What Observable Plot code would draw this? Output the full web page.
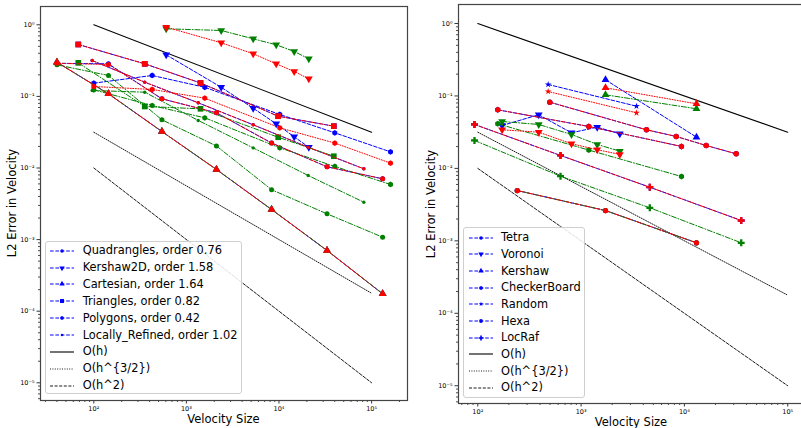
<!DOCTYPE html>
<html><head><meta charset="utf-8">
<script src="https://cdn.jsdelivr.net/npm/d3@7"></script>
<script src="https://cdn.jsdelivr.net/npm/@observablehq/plot@0.6"></script>
<style>
body{margin:0;background:#fff;font-family:"DejaVu Sans",sans-serif;}
#wrap{position:relative;width:801px;height:428px;overflow:hidden;background:#fff;}
.panel{position:absolute;top:0;}
.lab{position:absolute;font-size:11.5px;color:#000;white-space:nowrap;line-height:14px;}
.legend{position:absolute;background:rgba(255,255,255,0.85);border:1px solid #cfcfcf;border-radius:3px;box-sizing:border-box;}
.legend span{position:absolute;font-size:11.4px;line-height:14px;white-space:nowrap;color:#000;}
.legend svg{position:absolute;overflow:visible;}
</style></head><body><div id="wrap"></div>
<script>
// ---------- tick labels ----------
const xTicks = [1e2, 1e3, 1e4, 1e5];
const xTickLabels = ["10²", "10³", "10⁴", "10⁵"];
const yTicks = [1e-5, 1e-4, 1e-3, 1e-2, 1e-1, 1];
const yTickLabels = ["10⁻⁵", "10⁻⁴", "10⁻³", "10⁻²", "10⁻¹", "10⁰"];

// ---------- reference slopes ----------
const refSize = [100, 100000];
const refOh = [1, 0.0316];
const refOh32 = [0.0316, 0.000178];
const refOh2 = [0.01, 0.00001];

// ---------- left panel (2D meshes) ----------
const quadSize = [40, 144, 544, 2112, 8320, 33024, 131584];
const quadBlue = [0.29, 0.285, 0.0925, 0.059, 0.0223, 0.0104, 0.00706];
const quadRed = [0.29, 0.279, 0.0925, 0.059, 0.0223, 0.0104, 0.00706];
const quadGreen = [0.276, 0.196, 0.0471, 0.0203, 0.00497, 0.00229, 0.00108];

const kers2dSize = [605, 2376, 5265, 9330, 14590, 20990];
const kers2dBlue = [0.381, 0.134, 0.0684, 0.0414, 0.0273, 0.0195];
const kers2dRed = [0.926, 0.561, 0.394, 0.285, 0.223, 0.176];
const kers2dGreen = [0.879, 0.833, 0.637, 0.526, 0.424, 0.335];

const cartSize = [40, 144, 544, 2112, 8320, 33024, 131584];
const cartBlue = [0.3, 0.1087, 0.0323, 0.00953, 0.00263, 0.000705, 0.000175];
const cartRed = [0.3, 0.1087, 0.0323, 0.00953, 0.00263, 0.000705, 0.000175];
const cartGreen = [0.3, 0.1087, 0.0323, 0.00953, 0.00263, 0.000705, 0.000175];

const triSize = [68, 355, 1420, 9800, 39080];
const triBlue = [0.531, 0.285, 0.154, 0.0529, 0.0384];
const triRed = [0.531, 0.285, 0.154, 0.0529, 0.0384];
const triGreen = [0.294, 0.0723, 0.0671, 0.0269, 0.0146];

const polySize = [100, 427, 1580, 10200, 40060, 160000];
const polyBlue = [0.153, 0.196, 0.134, 0.0559, 0.031, 0.0168];
const polyRed = [0.1375, 0.125, 0.0944, 0.0364, 0.0223, 0.0117];
const polyGreen = [0.1236, 0.0746, 0.0502, 0.0191, 0.0105, 0.00589];

const locSize = [96, 355, 1342, 5265, 20660, 82380];
const locBlue = [0.317, 0.158, 0.0814, 0.0401, 0.0195, 0.00975];
const locRed = [0.317, 0.158, 0.0814, 0.0401, 0.0195, 0.00975];
const locGreen = [0.121, 0.1145, 0.0461, 0.0191, 0.00785, 0.00333];

// ---------- right panel (3D meshes) ----------
const tetraSize = [241, 1723, 13090];
const tetraBlue = [0.00495, 0.00262, 0.00094];
const tetraRed = [0.00495, 0.00262, 0.00094];
const tetraGreen = [0.00495, 0.00262, 0.00094];

const voroSize = [172, 389, 807, 1432, 2370];
const voroBlue = [0.0391, 0.055, 0.031, 0.0371, 0.03];
const voroRed = [0.0341, 0.0316, 0.0219, 0.0181, 0.0156];
const voroGreen = [0.0444, 0.0404, 0.0294, 0.0214, 0.0173];

const kersSize = [1723, 13090];
const kersBlue = [0.167, 0.027];
const kersRed = [0.1296, 0.0779];
const kersGreen = [0.1037, 0.0665];

const checkSize = [156, 1187, 9370];
const checkBlue = [0.0644, 0.0379, 0.0201];
const checkRed = [0.0644, 0.0379, 0.0201];
const checkGreen = [0.0413, 0.0179, 0.00773];

const randSize = [480, 3437];
const randBlue = [0.144, 0.0722];
const randRed = [0.1151, 0.0585];

const hexaSize = [498, 4297, 8330, 16260, 31720];
const hexaBlue = [0.082, 0.0341, 0.0276, 0.0207, 0.0159];
const hexaRed = [0.082, 0.0341, 0.0276, 0.0207, 0.0159];

const locRafSize = [92.9, 632, 4624, 35480];
const locRafBlue = [0.0404, 0.0151, 0.0055, 0.00191];
const locRafRed = [0.0404, 0.0151, 0.0055, 0.00191];
const locRafGreen = [0.0243, 0.0078, 0.00286, 0.00094];

// ---------- symbols & styles ----------
const triangleDown = {draw(ctx, size) {
  const y = Math.sqrt(size / (Math.sqrt(3) * 3)), s3 = Math.sqrt(3);
  ctx.moveTo(0, 2 * y); ctx.lineTo(-s3 * y, -y); ctx.lineTo(s3 * y, -y); ctx.closePath();
}};
const hexagonSym = {draw(ctx, size) {
  const r = Math.sqrt(size / (3 * Math.sqrt(3) / 2));
  for (let k = 0; k < 6; k++) {
    const a = Math.PI / 2 + k * Math.PI / 3;
    const px = r * Math.cos(a), py = r * Math.sin(a);
    if (k === 0) ctx.moveTo(px, py); else ctx.lineTo(px, py);
  }
  ctx.closePath();
}};
const SYM = {circle: d3.symbolCircle, triangle: d3.symbolTriangle, triDown: triangleDown,
  square: d3.symbolSquare, hexagon: hexagonSym, star: d3.symbolStar, cross: d3.symbolCross};

const COLORS = {
  blue: {stroke: "#0000ff", dash: "3.6,1.8"},
  green: {stroke: "#008000", dash: "5,1.8,1,1.8"},
  red: {stroke: "#ff0000", dash: "1,1.6"}
};

const leftSeries = [
  {label: "Quadrangles, order 0.76", sym: "circle", r: 2.5, x: quadSize, blue: quadBlue, red: quadRed, green: quadGreen},
  {label: "Kershaw2D, order 1.58", sym: "triDown", r: 2.9, x: kers2dSize, blue: kers2dBlue, red: kers2dRed, green: kers2dGreen},
  {label: "Cartesian, order 1.64", sym: "triangle", r: 2.9, x: cartSize, blue: cartBlue, red: cartRed, green: cartGreen},
  {label: "Triangles, order 0.82", sym: "square", r: 3.2, x: triSize, blue: triBlue, red: triRed, green: triGreen},
  {label: "Polygons, order 0.42", sym: "hexagon", r: 2.6, x: polySize, blue: polyBlue, red: polyRed, green: polyGreen},
  {label: "Locally_Refined, order 1.02", sym: "circle", r: 1.7, x: locSize, blue: locBlue, red: locRed, green: locGreen}
];
const rightSeries = [
  {label: "Tetra", sym: "circle", r: 2.6, x: tetraSize, blue: tetraBlue, red: tetraRed, green: tetraGreen},
  {label: "Voronoi", sym: "triDown", r: 2.9, x: voroSize, blue: voroBlue, red: voroRed, green: voroGreen},
  {label: "Kershaw", sym: "triangle", r: 2.9, x: kersSize, blue: kersBlue, red: kersRed, green: kersGreen},
  {label: "CheckerBoard", sym: "hexagon", r: 2.7, x: checkSize, blue: checkBlue, red: checkRed, green: checkGreen},
  {label: "Random", sym: "star", r: 2.1, x: randSize, blue: randBlue, red: randRed},
  {label: "Hexa", sym: "circle", r: 2.7, x: hexaSize, blue: hexaBlue, red: hexaRed},
  {label: "LocRaf", sym: "cross", r: 2.9, x: locRafSize, blue: locRafBlue, red: locRafRed, green: locRafGreen}
];
const refLines = [
  {label: "O(h)", y: refOh, dash: null, width: 1.1},
  {label: "O(h^{3/2})", y: refOh32, dash: "1,1.4", width: 0.9},
  {label: "O(h^2)", y: refOh2, dash: "3,1.6", width: 0.9}
];

function minorTicks(lo, hi) {
  const out = [];
  for (let e = -7; e <= 6; e++) for (let k = 2; k <= 9; k++) {
    const v = k * Math.pow(10, e);
    if (v > lo && v < hi) out.push(v);
  }
  return out;
}

function rows(xs, ys) { return xs.map((x, i) => ({x, y: ys[i]})); }

function drawPanel(cfg) {
  const marks = [];
  marks.push(Plot.axisX(minorTicks(cfg.xDomain[0], cfg.xDomain[1]), {anchor: "bottom", tickSize: 2, tickFormat: () => "", label: null, strokeWidth: 0.7}));
  marks.push(Plot.axisY(minorTicks(cfg.yDomain[0], cfg.yDomain[1]), {anchor: "left", tickSize: 2, tickFormat: () => "", label: null, strokeWidth: 0.7}));
  marks.push(Plot.axisX(xTicks, {anchor: "bottom", tickSize: 3.5, tickPadding: 2.5, fontSize: 6.5,
    tickFormat: d => xTickLabels[xTicks.indexOf(d)], label: null, strokeWidth: 0.8}));
  marks.push(Plot.axisY(yTicks, {anchor: "left", tickSize: 3.5, tickPadding: 2.5, fontSize: 6.5,
    tickFormat: d => yTickLabels[yTicks.indexOf(d)], label: null, strokeWidth: 0.8}));
  for (const r of refLines) {
    marks.push(Plot.line(rows(refSize, r.y), {x: "x", y: "y", stroke: "#000", strokeWidth: r.width, strokeDasharray: r.dash || undefined}));
  }
  for (const c of ["blue", "green", "red"]) {
    for (const s of cfg.series) {
      if (!s[c]) continue;
      const d = rows(s.x, s[c]);
      marks.push(Plot.line(d, {x: "x", y: "y", stroke: COLORS[c].stroke, strokeWidth: 1, strokeDasharray: COLORS[c].dash}));
      marks.push(Plot.dot(d, {x: "x", y: "y", symbol: SYM[s.sym], r: s.r, fill: COLORS[c].stroke, stroke: "none"}));
    }
  }
  marks.push(Plot.frame({stroke: "#444", strokeWidth: 1.2}));
  const svg = Plot.plot({
    width: cfg.width, height: 428,
    marginLeft: cfg.ml, marginRight: cfg.mr, marginTop: cfg.mt, marginBottom: cfg.mb,
    x: {type: "log", domain: cfg.xDomain, axis: null, label: null},
    y: {type: "log", domain: cfg.yDomain, axis: null, label: null},
    style: {fontFamily: "DejaVu Sans", fontSize: "6.5px", background: "transparent", color: "#000", overflow: "visible"},
    marks
  });
  svg.classList.add("panel");
  svg.style.left = cfg.left + "px";
  return svg;
}

function legend(box, series) {
  const div = document.createElement("div");
  div.className = "legend";
  Object.assign(div.style, {left: box.left + "px", top: box.top + "px", width: box.w + "px", height: box.h + "px"});
  const entries = series.map(s => ({label: s.label, stroke: "#0000ff", dash: COLORS.blue.dash, width: 1, sym: s.sym, r: s.r * 0.7}))
    .concat(refLines.map(r => ({label: r.label, stroke: "#000", dash: r.dash, width: r.width})));
  entries.forEach((e, i) => {
    const cy = box.first + i * box.step;
    const ns = "http://www.w3.org/2000/svg";
    const svg = document.createElementNS(ns, "svg");
    svg.setAttribute("width", 24); svg.setAttribute("height", 10);
    svg.style.left = box.sx + "px"; svg.style.top = (cy - 5) + "px";
    const line = document.createElementNS(ns, "line");
    line.setAttribute("x1", 0); line.setAttribute("x2", 24); line.setAttribute("y1", 5); line.setAttribute("y2", 5);
    line.setAttribute("stroke", e.stroke); line.setAttribute("stroke-width", e.width);
    if (e.dash) line.setAttribute("stroke-dasharray", e.dash);
    svg.appendChild(line);
    if (e.sym) {
      const p = document.createElementNS(ns, "path");
      p.setAttribute("d", d3.symbol(SYM[e.sym], Math.PI * e.r * e.r)());
      p.setAttribute("transform", "translate(12,5)");
      p.setAttribute("fill", e.stroke);
      svg.appendChild(p);
    }
    div.appendChild(svg);
    const sp = document.createElement("span");
    sp.textContent = e.label;
    sp.style.left = box.tx + "px"; sp.style.top = (cy - 7.5) + "px";
    div.appendChild(sp);
  });
  return div;
}

function label(text, cx, cy, rotate) {
  const d = document.createElement("div");
  d.className = "lab";
  d.textContent = text;
  d.style.left = cx + "px"; d.style.top = cy + "px";
  d.style.transform = "translate(-50%,-50%)" + (rotate ? " rotate(-90deg)" : "");
  return d;
}

const wrap = document.getElementById("wrap");
wrap.appendChild(drawPanel({
  series: leftSeries, left: 0, width: 410, ml: 40, mr: 3, mt: 6, mb: 28,
  xDomain: [26.57, 244200], yDomain: [5.66e-6, 1.801]
}));
wrap.appendChild(drawPanel({
  series: rightSeries, left: 410, width: 410, ml: 48, mr: 16, mt: 4, mb: 25,
  xDomain: [65.05, 145400], yDomain: [5.69e-6, 1.829]
}));
wrap.appendChild(legend({left: 45, top: 240.7, w: 196.7, h: 153.3, first: 9, step: 16.875, sx: 4, tx: 36.7}, leftSeries));
wrap.appendChild(legend({left: 463.3, top: 227.3, w: 121.7, h: 170.7, first: 9.4, step: 16.67, sx: 5, tx: 36.7}, rightSeries));
wrap.appendChild(label("Velocity Size", 223.5, 419, false));
wrap.appendChild(label("Velocity Size", 631, 421.5, false));
wrap.appendChild(label("L2 Error in Velocity", 11.5, 203, true));
wrap.appendChild(label("L2 Error in Velocity", 431, 203.5, true));
</script></body></html>
